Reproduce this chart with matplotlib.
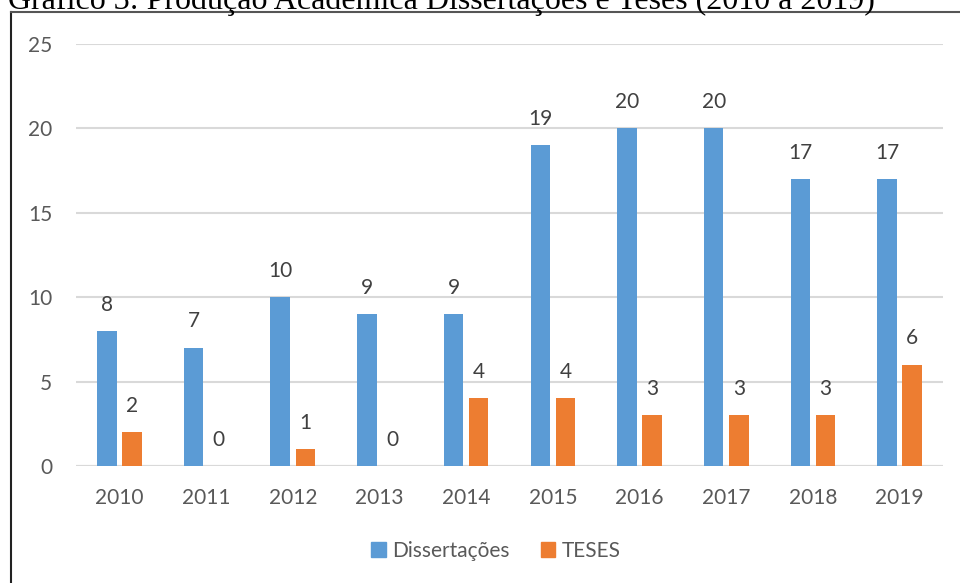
import matplotlib
matplotlib.use("Agg")
import matplotlib.pyplot as plt
from matplotlib.lines import Line2D
from matplotlib.patches import Patch
import numpy as np

years = ["2010", "2011", "2012", "2013", "2014", "2015", "2016", "2017", "2018", "2019"]
dissertacoes = [8, 7, 10, 9, 9, 19, 20, 20, 17, 17]
teses = [2, 0, 1, 0, 4, 4, 3, 3, 3, 6]
yticks = [0, 5, 10, 15, 20, 25]

BLUE = "#5B9BD5"
ORANGE = "#ED7D31"
FONT = ["Lato", "DejaVu Sans"]

fig = plt.figure(figsize=(9.6, 5.83), dpi=100)
ax = fig.add_axes([76/960, 1-466/583, (943-76)/960, (466-44)/583])

x = np.arange(len(years))
w = 0.225
off = 0.145
b1 = ax.bar(x - off, dissertacoes, w, color=BLUE, zorder=3, label="Dissertações")
b2 = ax.bar(x + off, teses, w, color=ORANGE, zorder=3, label="TESES")

for rects, vals in ((b1, dissertacoes), (b2, teses)):
    for r, v in zip(rects, vals):
        ax.annotate(str(v), (r.get_x() + r.get_width()/2, v), xytext=(0, 19),
                    textcoords="offset points", ha="center", va="center",
                    fontsize=15, color="#404040", family=FONT)

ax.set_xlim(-0.5, len(years) - 0.5)
ax.set_ylim(0, 25)
ax.set_yticks(yticks)
ax.set_yticklabels([str(t) for t in yticks], family=FONT, fontsize=15, color="#595959")
ax.set_xticks(x)
ax.set_xticklabels(years, family=FONT, fontsize=15, color="#595959")
ax.tick_params(axis="both", length=0)
ax.tick_params(axis="y", pad=17)
ax.tick_params(axis="x", pad=16)
ax.grid(axis="y", color="#D9D9D9", linewidth=1.5, zorder=0)
for s in ax.spines.values():
    s.set_visible(False)
ax.axhline(0, color="#D9D9D9", linewidth=1.5, zorder=2)

handles = [Patch(color=BLUE, label="Dissertações"), Patch(color=ORANGE, label="TESES")]
fig.legend(handles=handles, loc="center", bbox_to_anchor=(496/960, 1-551/583), ncol=2,
           frameon=False, prop={"family": FONT, "size": 15}, labelcolor="#595959",
           handlelength=0.7, handleheight=0.7, handletextpad=0.3, columnspacing=1.5)

# frame
fig.add_artist(Line2D([11/960, 11/960], [0, 1-12/583], transform=fig.transFigure,
                      color="#222222", linewidth=1.5))
fig.add_artist(Line2D([11/960, 1], [1-12/583, 1-12/583], transform=fig.transFigure,
                      color="#555555", linewidth=1.5))

fig.text(8/960, 1-9/583, "Gráfico 3: Produção Acadêmica Dissertações e Teses (2010 a 2019)",
         family=["Liberation Serif", "DejaVu Serif"], fontsize=23, color="black",
         ha="left", va="baseline")

fig.savefig("out.png", dpi=100)
